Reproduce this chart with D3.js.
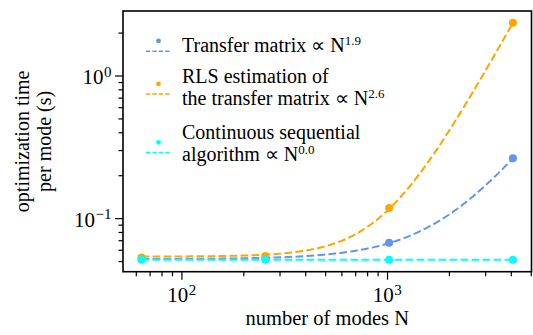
<!DOCTYPE html>
<html>
<head>
<meta charset="utf-8">
<script src="https://cdn.jsdelivr.net/npm/d3@7"></script>
<style>
  html, body { margin: 0; padding: 0; background: #fff; }
  svg text, svg tspan { font-family: "Liberation Serif", serif !important; }
</style>
</head>
<body>
<div id="chart"></div>
<script>
// ─── Data ──────────────────────────────────────────────────────
const modes = [64, 256, 1024, 4096];
const transferTime   = [0.0515, 0.0525, 0.0672, 0.263];
const rlsTime        = [0.0530, 0.0543, 0.118, 2.34];
const continuousTime = [0.0510, 0.0510, 0.0511, 0.0511];
const exponents = [1.9, 2.6, 0.0];
const seriesColors = ["#6495ed", "#ffa500", "#00ffff"];
const legendText = [
    ["Transfer matrix ∝ N"],
    ["RLS estimation of", "the transfer matrix ∝ N"],
    ["Continuous sequential", "algorithm ∝ N"]
];
const legendExp = ["1.9", "2.6", "0.0"];
const xMajorTicks = [100, 1000];
const xTickExp = ["2", "3"];
const yMajorTicks = [0.1, 1];
const yTickExp = ["−1", "0"];
const xLabel = "number of modes N";
const yLabel = ["optimization time", "per mode (s)"];

const series = [transferTime, rlsTime, continuousTime];
const FONT = "Liberation Serif";

// ─── Dimensions ───────────────────────────────────────────────
const fullW = 533, fullH = 335;
const m = { top: 11, right: 1.5, bottom: 63.3, left: 123 };
const w = fullW - m.left - m.right;
const h = fullH - m.top - m.bottom;

const svg = d3.select("#chart").append("svg")
    .attr("width", fullW)
    .attr("height", fullH)
    .attr("font-family", FONT);

const g = svg.append("g").attr("transform", `translate(${m.left},${m.top})`);

// ─── Scales (log, 5% padding like matplotlib) ─────────────────
function padLog(ext) {
    const a = Math.log10(ext[0]), b = Math.log10(ext[1]);
    const p = (b - a) * 0.05;
    return [10 ** (a - p), 10 ** (b + p)];
}
const allY = series.flat();
const x = d3.scaleLog().domain(padLog(d3.extent(modes))).range([0, w]);
const y = d3.scaleLog().domain(padLog(d3.extent(allY))).range([h, 0]);

// ─── Ticks ────────────────────────────────────────────────────
const xMinor = x.ticks().filter(t => !xMajorTicks.includes(t));
const yMinor = y.ticks().filter(t => !yMajorTicks.some(v => Math.abs(v - t) < 1e-9));

function styleAxis(sel) {
    sel.attr("font-family", FONT).attr("font-size", null);
    sel.select(".domain").remove();
    sel.selectAll("text").remove();
    sel.selectAll("line").attr("stroke", "#000").attr("stroke-width", 1.2);
}

g.append("g")
    .attr("transform", `translate(0,${h})`)
    .call(d3.axisBottom(x).tickValues(xMinor).tickSize(4.5))
    .call(styleAxis);
g.append("g")
    .call(d3.axisLeft(y).tickValues(yMinor).tickSize(4.5))
    .call(styleAxis);
g.append("g")
    .attr("transform", `translate(0,${h})`)
    .call(d3.axisBottom(x).tickValues(xMajorTicks).tickSize(8))
    .call(styleAxis);
g.append("g")
    .call(d3.axisLeft(y).tickValues(yMajorTicks).tickSize(8))
    .call(styleAxis);

// power-of-ten labels: base and exponent as separate texts
function powerLabel(parent, px, py, exp, anchor) {
    const base = parent.append("text")
        .attr("y", py)
        .style("font-family", FONT)
        .style("font-size", "21px")
        .attr("fill", "#000")
        .text("10");
    const sup = parent.append("text")
        .attr("y", py - 7.5)
        .style("font-family", FONT)
        .style("font-size", "15px")
        .attr("fill", "#000")
        .text(exp);
    const bw = base.node().getComputedTextLength();
    const sw = sup.node().getComputedTextLength();
    const left = anchor === "middle" ? px - (bw + sw) / 2 : px - (bw + sw);
    base.attr("x", left);
    sup.attr("x", left + bw + 0.5);
}

xMajorTicks.forEach((t, i) => powerLabel(g, x(t), h + 30.5, xTickExp[i], "middle"));
yMajorTicks.forEach((t, i) => powerLabel(g, -12, y(t) + 8.5, yTickExp[i], "end"));

// ─── Frame ────────────────────────────────────────────────────
g.append("rect")
    .attr("width", w)
    .attr("height", h)
    .attr("fill", "none")
    .attr("stroke", "#000")
    .attr("stroke-width", 1.6);

// ─── Power-law fits  c + k·N^p (least squares, p from legend) ─
function fit(ys, p) {
    const xs = modes.map(n => n ** p);
    const mx = d3.mean(xs), my = d3.mean(ys);
    const sxx = d3.sum(xs, v => (v - mx) ** 2);
    const k = sxx > 0 ? d3.sum(xs, (v, i) => (v - mx) * (ys[i] - my)) / sxx : 0;
    const c = my - k * mx;
    return n => c + k * n ** p;
}
const lx = d3.scaleLinear().domain([0, 99]).range(d3.extent(modes).map(Math.log10));
const curveN = d3.range(100).map(i => 10 ** lx(i));

const line = d3.line().x(d => x(d[0])).y(d => y(d[1]));

series.forEach((ys, s) => {
    const f = fit(ys, exponents[s]);
    g.append("path")
        .datum(curveN.map(n => [n, f(n)]))
        .attr("fill", "none")
        .attr("stroke", seriesColors[s])
        .attr("stroke-width", 2)
        .attr("stroke-dasharray", "7.7,3.3")
        .attr("d", line);
    g.selectAll(null)
        .data(modes.map((n, i) => [n, ys[i]]))
        .join("circle")
        .attr("cx", d => x(d[0]))
        .attr("cy", d => y(d[1]))
        .attr("r", 4)
        .attr("fill", seriesColors[s]);
});

// ─── Legend ───────────────────────────────────────────────────
const legendBase = [52.3, 83.3, 139.3];
const handleMid = [45.9, 88.8, 147.3];
const lineGap = 22;
const legend = svg.append("g").attr("class", "legend");
legendText.forEach((lines, i) => {
    const lg = legend.append("g");
    lg.append("circle")
        .attr("cx", 158.5)
        .attr("cy", handleMid[i] - 5)
        .attr("r", 2.4)
        .attr("fill", seriesColors[i]);
    lg.append("line")
        .attr("x1", 146).attr("x2", 171.5)
        .attr("y1", handleMid[i] + 5.3).attr("y2", handleMid[i] + 5.3)
        .attr("stroke", seriesColors[i])
        .attr("stroke-width", 1.5)
        .attr("stroke-dasharray", "4.3,2.1");
    lines.forEach((txt, j) => {
        const t = lg.append("text")
            .attr("x", 182)
            .attr("y", legendBase[i] + j * lineGap)
            .style("font-family", FONT)
            .style("font-size", "20px")
            .attr("fill", "#000");
        t.append("tspan").text(txt);
        if (j === lines.length - 1) {
            t.append("tspan").text(legendExp[i])
                .style("font-size", "13px")
                .attr("dy", -7);
        }
    });
});

// ─── Axis labels ──────────────────────────────────────────────
svg.append("text")
    .attr("x", m.left + w / 2)
    .attr("y", 324.5)
    .attr("text-anchor", "middle")
    .style("font-family", FONT)
    .style("font-size", "20.5px")
    .text(xLabel);

yLabel.forEach((txt, i) => {
    svg.append("text")
        .attr("transform", `translate(${29 + i * 21.5},${m.top + h / 2}) rotate(-90)`)
        .attr("text-anchor", "middle")
        .style("font-family", FONT)
        .style("font-size", "20px")
        .text(txt);
});
</script>
</body>
</html>
